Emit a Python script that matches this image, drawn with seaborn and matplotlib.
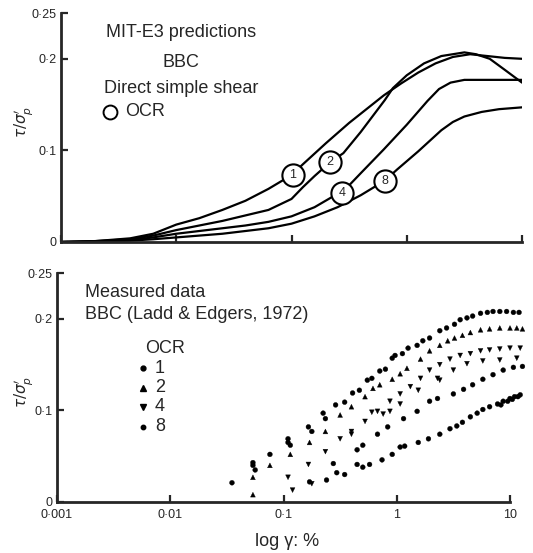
import numpy as np
import pandas as pd
import matplotlib
matplotlib.use("Agg")
import matplotlib.pyplot as plt
from matplotlib.ticker import FixedLocator, NullLocator, FixedFormatter
import seaborn as sns

# ---------------- data ----------------
# Top panel: MIT-E3 predictions (log10 of shear strain %, tau/sigma'p)
pred_lx_1 = [-3.0, -2.7, -2.4, -2.2, -2.0, -1.8, -1.6, -1.4, -1.2, -1.0, -0.9, -0.7, -0.5, -0.35, -0.2, -0.05, 0.1, 0.25, 0.4, 0.55, 0.7, 0.85, 1.0]
pred_y_1 = [0.0, 0.001, 0.004, 0.009, 0.019, 0.026, 0.035, 0.045, 0.058, 0.073, 0.085, 0.108, 0.130, 0.145, 0.160, 0.173, 0.185, 0.195, 0.202, 0.205, 0.203, 0.201, 0.200]
pred_lx_2 = [-3.0, -2.7, -2.4, -2.2, -2.0, -1.8, -1.6, -1.4, -1.2, -1.0, -0.9, -0.8, -0.666, -0.55, -0.4, -0.19, -0.12, 0.0, 0.15, 0.3, 0.5, 0.6, 0.72, 0.85, 1.0]
pred_y_2 = [0.0, 0.001, 0.003, 0.007, 0.013, 0.018, 0.023, 0.029, 0.035, 0.047, 0.060, 0.072, 0.087, 0.097, 0.120, 0.155, 0.168, 0.182, 0.195, 0.203, 0.207, 0.205, 0.200, 0.188, 0.174]
pred_lx_4 = [-3.0, -2.7, -2.4, -2.2, -2.0, -1.8, -1.6, -1.4, -1.2, -1.0, -0.8, -0.65, -0.56, -0.4, -0.2, 0.0, 0.18, 0.28, 0.38, 0.5, 0.7, 1.0]
pred_y_4 = [0.0, 0.0005, 0.002, 0.005, 0.009, 0.012, 0.015, 0.018, 0.022, 0.028, 0.038, 0.049, 0.054, 0.075, 0.101, 0.128, 0.154, 0.167, 0.174, 0.177, 0.177, 0.177]
pred_lx_8 = [-3.0, -2.7, -2.4, -2.2, -2.0, -1.8, -1.6, -1.4, -1.2, -1.0, -0.8, -0.6, -0.4, -0.19, -0.085, 0.1, 0.3, 0.4, 0.5, 0.65, 0.8, 1.0]
pred_y_8 = [0.0, 0.0003, 0.0015, 0.003, 0.005, 0.007, 0.009, 0.012, 0.015, 0.020, 0.028, 0.038, 0.051, 0.067, 0.079, 0.099, 0.122, 0.131, 0.137, 0.142, 0.145, 0.147]

ocr_values = ["1", "2", "4", "8"]
curve_label_lx = [-0.99, -0.666, -0.56, -0.19]
curve_label_y = [0.073, 0.087, 0.054, 0.067]

# Bottom panel: measured data (log10 of shear strain %, tau/sigma'p)
meas_lx_1 = [-1.455, -1.27, -1.25, -1.27, -1.12, -0.96, -0.94, -0.96, -0.78, -0.75, -0.65, -0.63, -0.54, -0.46, -0.39, -0.33, -0.26, -0.22, -0.15, -0.10, -0.04, -0.015, 0.05, 0.10, 0.18, 0.23, 0.29, 0.38, 0.44, 0.51, 0.56, 0.62, 0.67, 0.74, 0.80, 0.85, 0.91, 0.97, 1.03, 1.08]
meas_y_1 = [0.021, 0.043, 0.035, 0.040, 0.052, 0.069, 0.062, 0.065, 0.082, 0.077, 0.097, 0.091, 0.106, 0.109, 0.119, 0.122, 0.133, 0.135, 0.143, 0.145, 0.157, 0.160, 0.162, 0.168, 0.171, 0.176, 0.179, 0.187, 0.190, 0.194, 0.199, 0.201, 0.203, 0.206, 0.207, 0.208, 0.208, 0.208, 0.207, 0.207]
meas_lx_2 = [-1.27, -1.27, -1.12, -0.94, -0.77, -0.63, -0.50, -0.40, -0.28, -0.21, -0.15, -0.04, 0.03, 0.09, 0.21, 0.29, 0.38, 0.45, 0.51, 0.58, 0.65, 0.74, 0.82, 0.91, 1.00, 1.06, 1.11]
meas_y_2 = [0.008, 0.027, 0.040, 0.052, 0.065, 0.077, 0.095, 0.104, 0.115, 0.124, 0.128, 0.134, 0.140, 0.146, 0.156, 0.165, 0.171, 0.176, 0.179, 0.182, 0.185, 0.188, 0.189, 0.190, 0.190, 0.190, 0.189]
meas_lx_4 = [-0.96, -0.92, -0.78, -0.75, -0.63, -0.50, -0.40, -0.28, -0.17, -0.06, 0.03, 0.12, 0.21, 0.29, 0.38, 0.47, 0.56, 0.65, 0.74, 0.82, 0.91, 1.00, 1.09,
             -0.40, -0.22, -0.12, -0.06, 0.03, 0.19, 0.36, 0.38, 0.50, 0.62, 0.76, 0.91, 1.06]
meas_y_4 = [0.027, 0.013, 0.041, 0.020, 0.055, 0.069, 0.077, 0.088, 0.099, 0.110, 0.118, 0.126, 0.135, 0.144, 0.150, 0.156, 0.160, 0.162, 0.165, 0.166, 0.167, 0.168, 0.168,
            0.074, 0.098, 0.096, 0.099, 0.107, 0.122, 0.135, 0.133, 0.144, 0.151, 0.154, 0.155, 0.157]
meas_lx_8 = [-0.56, -0.35, -0.30, -0.17, -0.08, 0.06, 0.18, 0.29, 0.36, 0.50, 0.59, 0.67, 0.76, 0.85, 0.94, 1.03, 1.11,
             -0.77, -0.62, -0.53, -0.46, -0.35, -0.30, -0.24, -0.13, -0.04, 0.03, 0.07, 0.19, 0.28, 0.38, 0.47, 0.53, 0.58, 0.65, 0.71, 0.76, 0.82, 0.89, 0.94, 1.00, 1.04, 1.09, 0.92, 0.98, 1.02, 1.07]
meas_y_8 = [0.042, 0.057, 0.062, 0.074, 0.082, 0.091, 0.099, 0.110, 0.113, 0.118, 0.123, 0.128, 0.134, 0.139, 0.144, 0.147, 0.148,
            0.022, 0.024, 0.032, 0.030, 0.041, 0.038, 0.041, 0.046, 0.052, 0.060, 0.061, 0.065, 0.069, 0.074, 0.080, 0.083, 0.087, 0.093, 0.097, 0.101, 0.104, 0.107, 0.110, 0.113, 0.115, 0.117, 0.106, 0.110, 0.112, 0.115]

x_ticks = [0.001, 0.01, 0.1, 1, 10]
x_tick_labels = ["0·001", "0·01", "0·1", "1", "10"]
y_ticks = [0, 0.1, 0.2, 0.25]
y_tick_labels = ["0", "0·1", "0·2", "0·25"]

# ---------------- style ----------------
sns.set_style("ticks")
plt.rcParams["font.family"] = ["Liberation Sans", "DejaVu Sans"]
plt.rcParams["mathtext.fontset"] = "dejavusans"

W, H = 533, 553
fig = plt.figure(figsize=(W / 100, H / 100), dpi=100)
fig.patch.set_facecolor("white")

def px_axes(x0, x1, ytop, ybot):
    return fig.add_axes([x0 / W, 1 - ybot / H, (x1 - x0) / W, (ybot - ytop) / H])

ax1 = px_axes(61, 522, 13, 242)
ax2 = px_axes(57, 510, 273, 502)

TXT = 13

# top curves
pred_frames = []
for ocr, lx, yy in zip(ocr_values, [pred_lx_1, pred_lx_2, pred_lx_4, pred_lx_8],
                       [pred_y_1, pred_y_2, pred_y_4, pred_y_8]):
    pred_frames.append(pd.DataFrame({"strain": np.power(10.0, lx), "tau": yy, "OCR": ocr}))
pred_df = pd.concat(pred_frames, ignore_index=True)
sns.lineplot(data=pred_df, x="strain", y="tau", units="OCR", estimator=None,
             color="black", linewidth=1.6, sort=False, ax=ax1, legend=False)

for ocr, lx, yy in zip(ocr_values, curve_label_lx, curve_label_y):
    ax1.plot([10 ** lx], [yy], marker="o", markersize=16, markerfacecolor="white",
             markeredgecolor="black", markeredgewidth=1.5, zorder=5)
    ax1.text(10 ** lx, yy, ocr, ha="center", va="center", fontsize=9, zorder=6)

# bottom scatter
meas_frames = []
for ocr, lx, yy in zip(ocr_values, [meas_lx_1, meas_lx_2, meas_lx_4, meas_lx_8],
                       [meas_y_1, meas_y_2, meas_y_4, meas_y_8]):
    meas_frames.append(pd.DataFrame({"strain": np.power(10.0, lx), "tau": yy, "OCR": ocr}))
meas_df = pd.concat(meas_frames, ignore_index=True)
marker_map = {"1": "o", "2": "^", "4": "v", "8": "o"}
sns.scatterplot(data=meas_df, x="strain", y="tau", style="OCR", markers=marker_map,
                color="black", edgecolor="black", s=12, legend=False, ax=ax2, clip_on=False)

# axes formatting
for ax in (ax1, ax2):
    ax.set_xscale("log")
    ax.set_xlim(0.001, 10)
    ax.set_ylim(0, 0.25)
    ax.xaxis.set_major_locator(FixedLocator(x_ticks))
    ax.xaxis.set_minor_locator(NullLocator())
    ax.yaxis.set_major_locator(FixedLocator(y_ticks))
    ax.yaxis.set_major_formatter(FixedFormatter(y_tick_labels))
    for s in ("top", "right"):
        ax.spines[s].set_visible(False)
    for s in ("left", "bottom"):
        ax.spines[s].set_linewidth(2.0)
    ax.tick_params(direction="in", length=5, width=1.6, labelsize=9, pad=3)
    ax.tick_params(axis="x", pad=5)
    ax.set_facecolor("white")

ax1.tick_params(axis="x", labelbottom=False)
ax2.xaxis.set_major_formatter(FixedFormatter(x_tick_labels))
ax1.set_xlabel("")
ax2.set_xlabel("log γ: %", fontsize=TXT)
ax2.xaxis.set_label_coords(0.508, -0.135)

ax1.set_ylabel(r"$\tau/\sigma_p'$", fontsize=11)
ax2.set_ylabel(r"$\tau/\sigma_p'$", fontsize=11)
ax1.yaxis.set_label_coords(-0.056, 0.524)
ax2.yaxis.set_label_coords(-0.048, 0.48)

# top annotations
ax1.text(0.26, 0.913, "MIT-E3 predictions", transform=ax1.transAxes, ha="center", va="center", fontsize=TXT)
ax1.text(0.26, 0.786, "BBC", transform=ax1.transAxes, ha="center", va="center", fontsize=TXT)
ax1.text(0.26, 0.672, "Direct simple shear", transform=ax1.transAxes, ha="center", va="center", fontsize=TXT)
ax1.plot([0.106], [0.568], marker="o", markersize=10, markerfacecolor="white",
         markeredgecolor="black", markeredgewidth=1.4, transform=ax1.transAxes)
ax1.text(0.139, 0.568, "OCR", transform=ax1.transAxes, ha="left", va="center", fontsize=TXT)

# bottom annotations / legend
ax2.text(0.062, 0.913, "Measured data", transform=ax2.transAxes, ha="left", va="center", fontsize=TXT)
ax2.text(0.062, 0.817, "BBC (Ladd & Edgers, 1972)", transform=ax2.transAxes, ha="left", va="center", fontsize=TXT)
ax2.text(0.238, 0.672, "OCR", transform=ax2.transAxes, ha="center", va="center", fontsize=TXT)
leg_y = [0.585, 0.498, 0.415, 0.328]
leg_ms = [3.5, 4, 4, 3.2]
for ocr, yy, ms in zip(ocr_values, leg_y, leg_ms):
    ax2.plot([0.19], [yy], marker=marker_map[ocr], markersize=ms, color="black",
             linestyle="none", transform=ax2.transAxes)
    ax2.text(0.216, yy, ocr, transform=ax2.transAxes, ha="left", va="center", fontsize=TXT)

fig.savefig("out.png", dpi=100, facecolor="white")
